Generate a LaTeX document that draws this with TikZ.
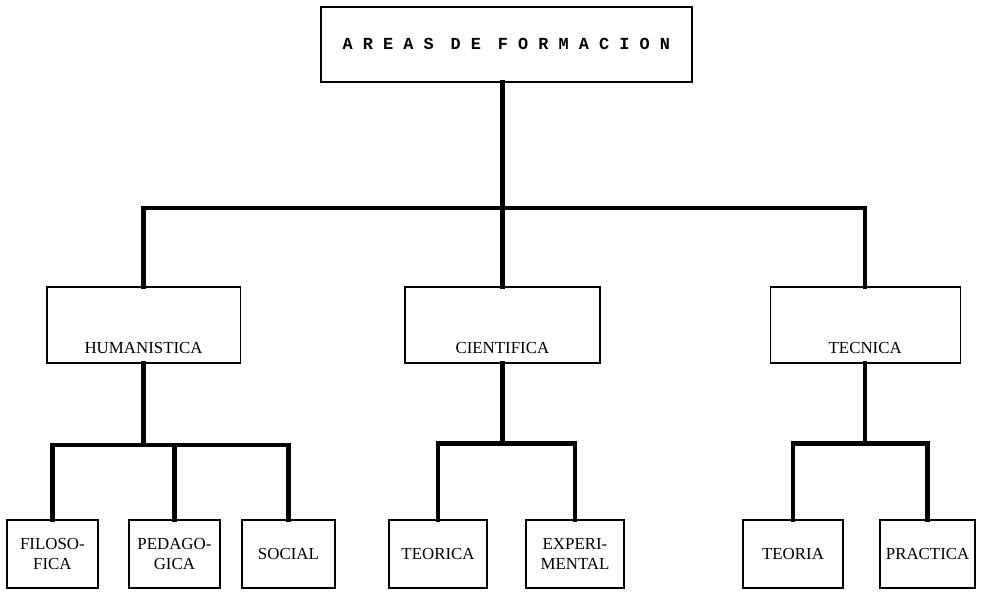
\documentclass[tikz,border=0pt]{standalone}
\usepackage{fontspec}
\setmainfont{Liberation Serif}
\newfontfamily\titlefont{Liberation Mono}
\usetikzlibrary{backgrounds}

\begin{document}
\begin{tikzpicture}[background rectangle/.style={fill=white},show background rectangle,
        box/.style={draw,line width=1pt,inner sep=0pt,font=\fontsize{12}{14}\selectfont},
        midbox/.style={box,minimum width=#1,text height=1.65cm,text depth=0.25cm},
        lowbox/.style={box,minimum width=#1,minimum height=1.7cm,align=center},
        link/.style={line width=3.2pt,line cap=rect}]
        \useasboundingbox (0,0) rectangle (24.6,-14.8);

        \node[box,minimum width=9.275cm,minimum height=1.875cm,font=\titlefont\bfseries\fontsize{12}{14}\selectfont] (areas) at (12.66,-1.11) {A R E A S\quad D E\quad F O R M A C I O N};

        \node[midbox=4.83cm] (hum) at (3.59,-8.125) {HUMANISTICA};
        \node[midbox=4.875cm] (cien) at (12.56,-8.125) {CIENTIFICA};
        \node[midbox=4.75cm] (tec) at (21.63,-8.125) {TECNICA};

        \node[lowbox=2.275cm] (filo) at (1.31,-13.85) {FILOSO-\\FICA};
        \node[lowbox=2.275cm] (peda) at (4.36,-13.85) {PEDAGO-\\GICA};
        \node[lowbox=2.325cm] (soc) at (7.21,-13.85) {SOCIAL};
        \node[lowbox=2.45cm] (teorica) at (10.95,-13.85) {TEORICA};
        \node[lowbox=2.45cm] (exp) at (14.375,-13.85) {EXPERI-\\MENTAL};
        \node[lowbox=2.5cm] (teoria) at (19.825,-13.85) {TEORIA};
        \node[lowbox=2.375cm] (prac) at (23.19,-13.85) {PRACTICA};

        \coordinate (fork) at (12.55,-5.2);
        \draw[link] (areas.south -| cien.north) -- (cien.north);
        \draw[link] (hum.north) |- (fork) -| (tec.north);

        \foreach \c in {filo,peda,soc}
        \draw[link] (hum.south) -- ++(0,-2.03) -| (\c.north);
        \foreach \c in {teorica,exp}
        \draw[link] (cien.south) -- ++(0,-2.0) -| (\c.north);
        \foreach \c in {teoria,prac}
        \draw[link] (tec.south) -- ++(0,-2.0) -| (\c.north);

    \end{tikzpicture}
\end{document}
